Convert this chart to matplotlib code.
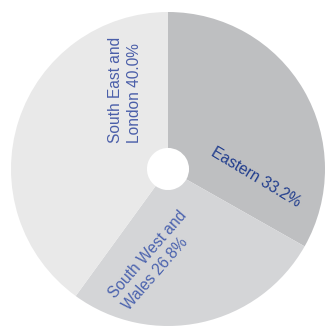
"""Regional share donut chart."""
import matplotlib.pyplot as plt
import numpy as np

plt.rcParams['font.family'] = ['Liberation Sans', 'DejaVu Sans']

regions = ['Eastern', 'South West and\nWales', 'South East and\nLondon']
shares = [33.2, 26.8, 40.0]
slice_colors = ['#bebfc1', '#d4d5d7', '#e9e9e9']
text_colors = ['#213d8d', '#4b63ae', '#4a5ea9']

# label placement: (angle deg, radius fraction, rotation)
label_pos = [(-5.3, 0.56, -31), (-98.5, 0.59, 49), (118.6, 0.57, 90)]

fig = plt.figure(figsize=(3.27, 3.26), dpi=100)
ax = fig.add_axes([0, 0, 1, 1])
ax.axis('off')

ax.pie(shares, colors=slice_colors, startangle=90, counterclock=False,
       radius=1.0, wedgeprops=dict(width=0.866, linewidth=0))

for name, val, col, (ang, r, rot) in zip(regions, shares, text_colors, label_pos):
    a = np.deg2rad(ang)
    ax.text(r * np.cos(a), r * np.sin(a), f'{name} {val:.1f}%',
            ha='center', va='center', rotation=rot, rotation_mode='anchor',
            multialignment='left', fontsize=11.2, color=col, linespacing=1.3)

ax.set_xlim(-168 / 157, 159 / 157)
ax.set_ylim(-157 / 157, 169 / 157)
ax.set_aspect('equal')

fig.savefig('out.png', dpi=100)
